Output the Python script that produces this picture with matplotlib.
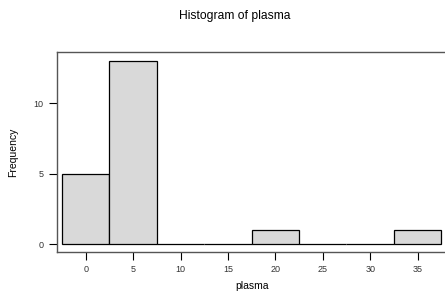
import matplotlib.pyplot as plt

# histogram bins (centers, width 5) and counts
bin_centers = [0, 5, 10, 15, 20, 25, 30, 35]
counts = [5, 13, 0, 0, 1, 0, 0, 1]
x_ticks = [0, 5, 10, 15, 20, 25, 30, 35]
y_ticks = [0, 5, 10]


def main():
    plt.rcParams['font.family'] = ['Liberation Sans', 'DejaVu Sans']
    fig = plt.figure(figsize=(4.45, 2.94), dpi=100)
    W, H = 445, 294
    ax = fig.add_axes([57 / W, (H - 252) / H, (447 - 57) / W, (252 - 52) / H])

    ax.bar(bin_centers, counts, width=5, color='#d9d9d9',
           edgecolor='black', linewidth=0.9)

    ax.set_xlim(-3.03, 38.1)
    ax.set_ylim(-0.56, 13.63)
    ax.set_xticks(x_ticks)
    ax.set_yticks(y_ticks)
    ax.tick_params(direction='out', length=5.5, width=0.8, labelsize=6.5,
                   colors='black', labelcolor='#333333', pad=4)
    for s in ax.spines.values():
        s.set_color('#555555')
        s.set_linewidth(1.0)

    ax.set_xlabel('plasma', fontsize=7.5, labelpad=5)
    ax.set_ylabel('Frequency', fontsize=7.5, labelpad=11)
    fig.text(235 / W, 1 - 16 / H, 'Histogram of plasma', fontsize=8.7,
             ha='center', va='center')

    fig.savefig('out.png', dpi=100)


if __name__ == "__main__":
    main()
